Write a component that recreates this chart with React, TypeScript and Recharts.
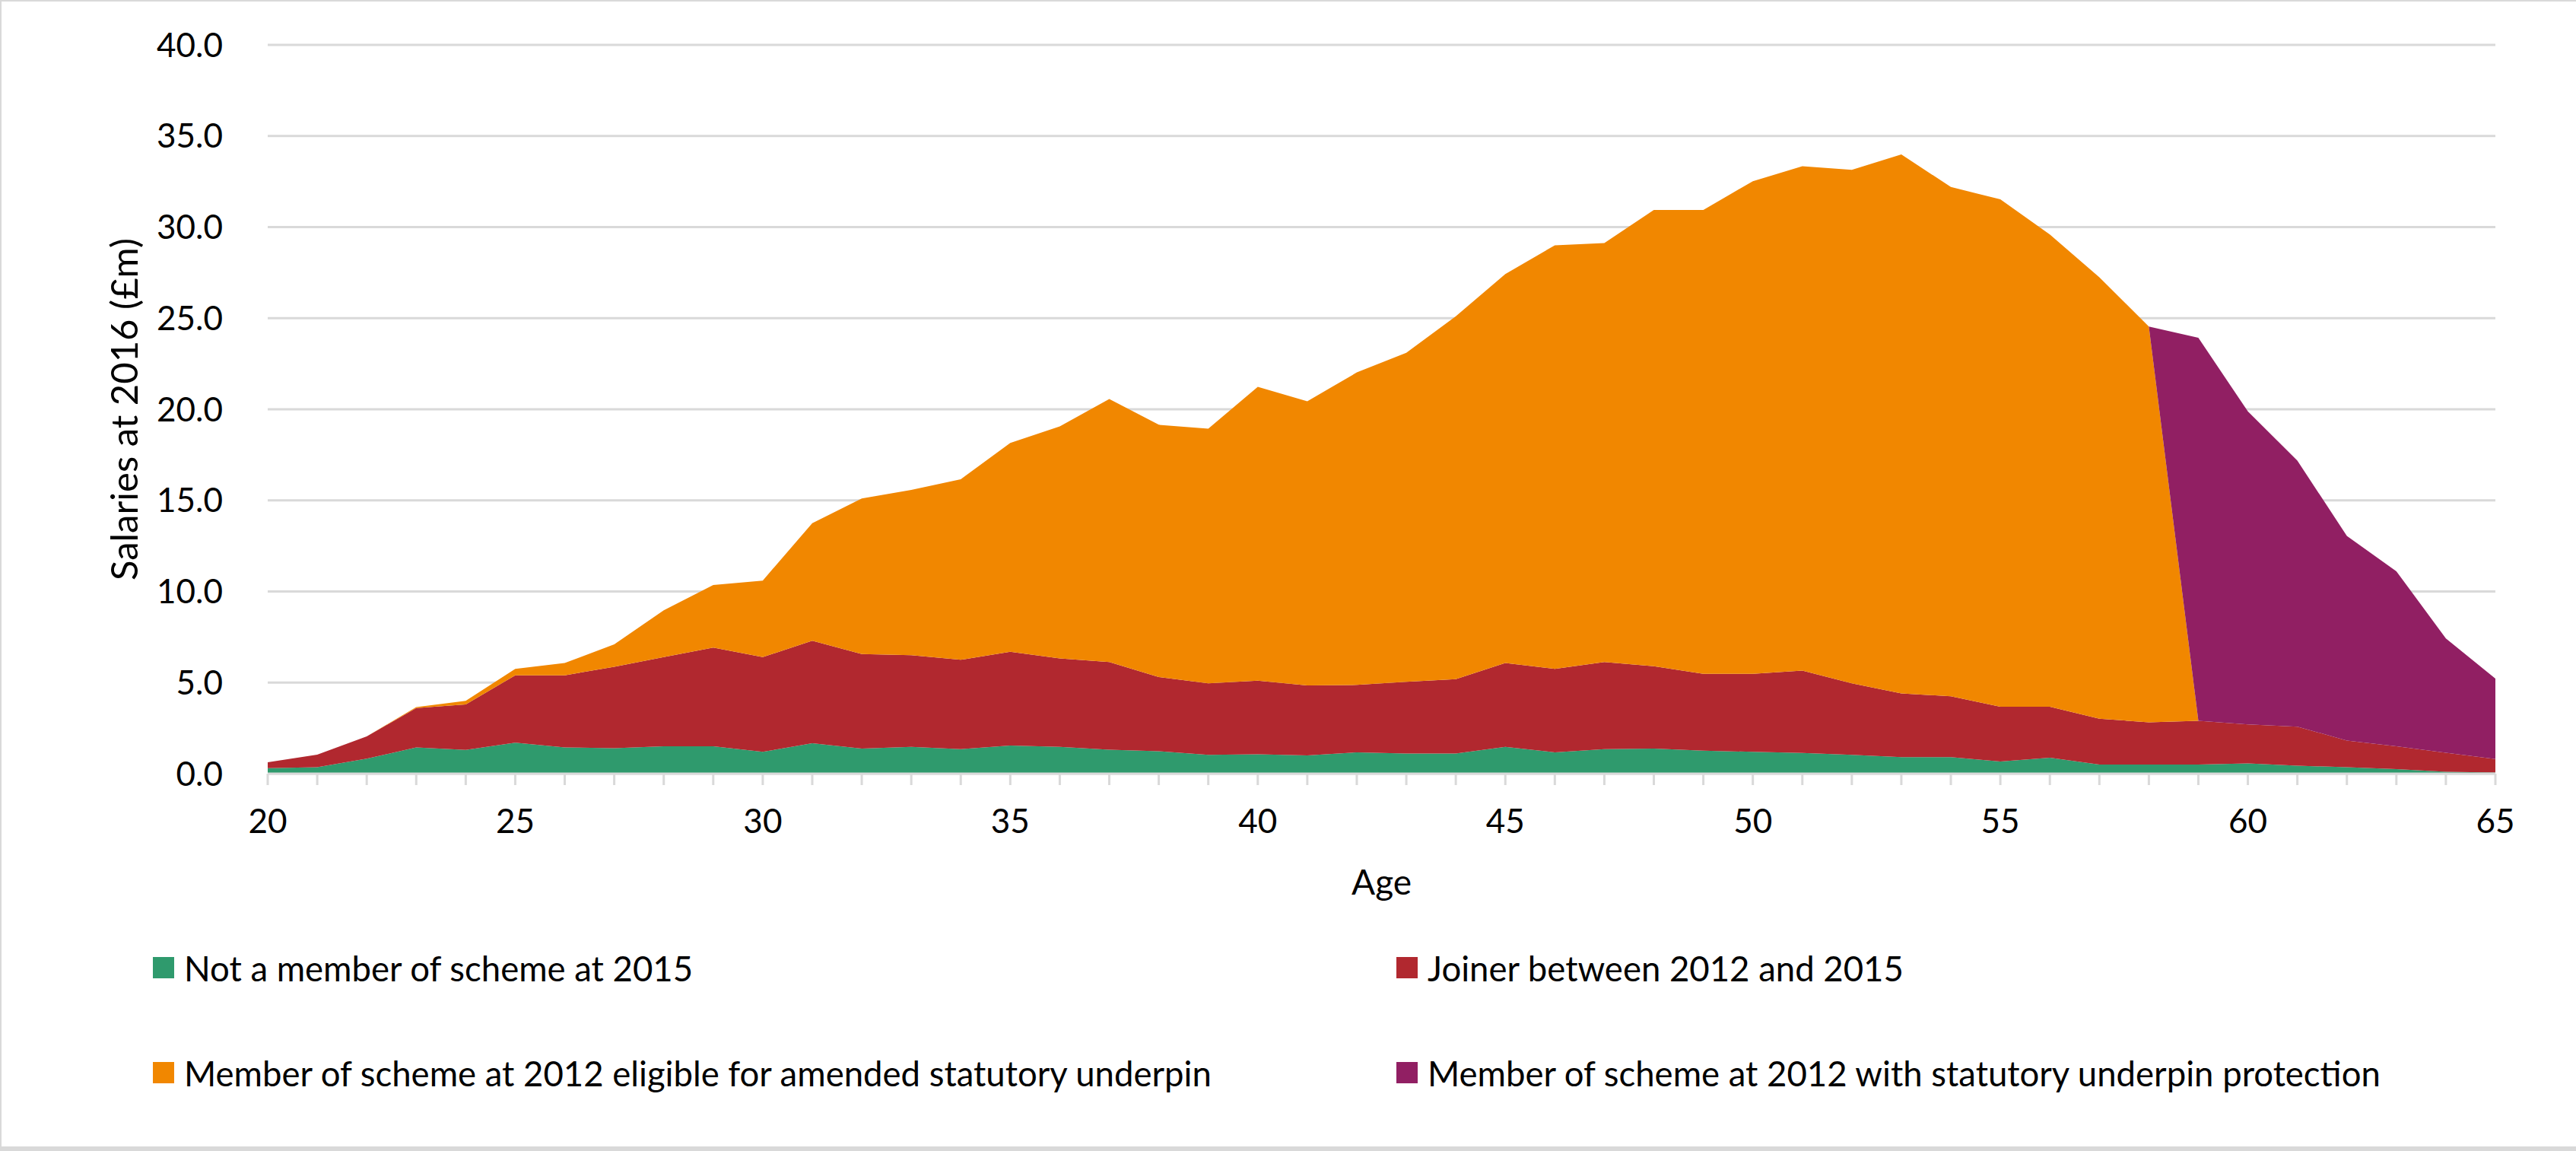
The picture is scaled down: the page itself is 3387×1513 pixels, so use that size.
import React from 'react';
import { AreaChart, Area, XAxis, YAxis, CartesianGrid, Legend } from 'recharts';

const ages = [
  20, 21, 22, 23, 24, 25, 26, 27, 28, 29, 30, 31, 32, 33, 34, 35, 36, 37, 38, 39, 40, 41, 42,
  43, 44, 45, 46, 47, 48, 49, 50, 51, 52, 53, 54, 55, 56, 57, 58, 59, 60, 61, 62, 63, 64, 65,
];

// £m
const notMember = [
  0.3, 0.36, 0.82, 1.44, 1.3, 1.7, 1.44, 1.4, 1.5, 1.5, 1.2, 1.67, 1.38, 1.47, 1.35, 1.55, 1.47,
  1.32, 1.23, 1.03, 1.06, 1.0, 1.17, 1.11, 1.11, 1.47, 1.17, 1.35, 1.38, 1.26, 1.2, 1.14, 1.03,
  0.91, 0.91, 0.67, 0.88, 0.5, 0.5, 0.5, 0.56, 0.44, 0.35, 0.25, 0.1, 0.06,
];
const joiner = [
  0.33, 0.68, 1.23, 2.16, 2.5, 3.7, 3.96, 4.47, 4.9, 5.42, 5.2, 5.63, 5.19, 5.03, 4.9, 5.14, 4.86,
  4.81, 4.07, 3.93, 4.04, 3.84, 3.7, 3.93, 4.08, 4.6, 4.58, 4.78, 4.52, 4.22, 4.28, 4.52, 3.93,
  3.49, 3.34, 3.0, 2.79, 2.52, 2.32, 2.4, 2.14, 2.14, 1.47, 1.25, 1.05, 0.74,
];
const eligible = [
  0, 0, 0, 0.05, 0.2, 0.35, 0.67, 1.23, 2.57, 3.43, 4.2, 6.45, 8.53, 9.07, 9.91, 11.46, 12.73,
  14.43, 13.85, 13.98, 16.13, 15.6, 17.15, 18.06, 19.91, 21.35, 23.25, 22.99, 25.04, 25.46, 27.04,
  27.68, 28.18, 29.59, 27.95, 27.85, 25.92, 24.22, 21.72, 0, 0, 0, 0, 0, 0, 0,
];
const protectedUnderpin = [
  0, 0, 0, 0, 0, 0, 0, 0, 0, 0, 0, 0, 0, 0, 0, 0, 0, 0, 0, 0, 0, 0, 0, 0, 0, 0, 0, 0, 0, 0, 0, 0,
  0, 0, 0, 0, 0, 0, 0, 21.03, 17.18, 14.6, 11.23, 9.61, 6.27, 4.42,
];

const yTicks = [0, 5, 10, 15, 20, 25, 30, 35, 40];

const SERIES = [
  { key: 'notMember', name: 'Not a member of scheme at 2015', color: '#2F9A6D' },
  { key: 'joiner', name: 'Joiner between 2012 and 2015', color: '#B1282F' },
  { key: 'eligible', name: 'Member of scheme at 2012 eligible for amended statutory underpin', color: '#F18700' },
  { key: 'protectedUnderpin', name: 'Member of scheme at 2012 with statutory underpin protection', color: '#911F63' },
];

const data = ages.map((age, i) => ({
  age,
  notMember: notMember[i],
  joiner: joiner[i],
  eligible: eligible[i],
  protectedUnderpin: protectedUnderpin[i],
}));

const FONT = 'Lato, "Noto Sans", sans-serif';
const GRID = '#d9d9d9';

const YTitle = (props: any) => {
  const { viewBox } = props;
  const x = viewBox.x + 162;
  const y = viewBox.y + viewBox.height / 2;
  return (
    <text x={x} y={y} transform={`rotate(-90, ${x}, ${y})`} textAnchor="middle" dominantBaseline="central"
      style={{ fontSize: 49, fill: '#000', fontFamily: FONT }}>
      Salaries at 2016 (£m)
    </text>
  );
};

const XTitle = (props: any) => {
  const { viewBox } = props;
  return (
    <text x={viewBox.x + viewBox.width / 2} y={viewBox.y + 141} textAnchor="middle" dominantBaseline="central"
      style={{ fontSize: 46, fill: '#000', fontFamily: FONT }}>
      Age
    </text>
  );
};

const LegendBox = (props: any) => {
  const cols = [201, 1836];
  const rows = [72, 210];
  // keep the series order (legend payload comes back sorted by name)
  const items = [...(props.payload || [])].sort(
    (a: any, b: any) => SERIES.findIndex(s => s.key === a.dataKey) - SERIES.findIndex(s => s.key === b.dataKey)
  );
  return (
    <div style={{ position: 'relative', width: 3387, height: 260 }}>
      {items.map((item: any, i: number) => {
        const s = SERIES.find(d => d.key === item.dataKey) || SERIES[i];
        return (
          <div key={s.key} style={{
            position: 'absolute', left: cols[i % 2], top: rows[Math.floor(i / 2)] - 30, height: 60,
            display: 'flex', alignItems: 'center', whiteSpace: 'nowrap',
          }}>
            <span style={{ display: 'inline-block', width: 28, height: 28, background: s.color, marginRight: 13 }} />
            <span style={{ fontSize: 45.5, color: '#000', fontFamily: FONT }}>{item.value}</span>
          </div>
        );
      })}
    </div>
  );
};

export default function App() {
  return (
    <div style={{ position: 'absolute', left: 0, top: 0, width: 3387, height: 1513, background: '#fff', fontFamily: FONT }}>
      <AreaChart width={3387} height={1513} data={data} margin={{ top: 59, right: 106, left: 0, bottom: 316 }}>
        <CartesianGrid vertical={false} stroke={GRID} strokeWidth={3} />
        <XAxis
          dataKey="age"
          type="number"
          domain={[20, 65]}
          ticks={ages}
          interval={0}
          tickFormatter={(v: number) => (v % 5 === 0 ? String(v) : '')}
          axisLine={{ stroke: GRID, strokeWidth: 3 }}
          tickLine={{ stroke: GRID, strokeWidth: 3 }}
          tickSize={15}
          tickMargin={32}
          height={180}
          tick={{ fontSize: 44, fill: '#000', fontFamily: FONT }}
          label={<XTitle />}
        />
        <YAxis
          domain={[0, 40]}
          ticks={yTicks}
          width={352}
          axisLine={false}
          tickLine={false}
          tickSize={6}
          tickMargin={53}
          tickFormatter={(v: number) => v.toFixed(1)}
          tick={{ fontSize: 44, fill: '#000', fontFamily: FONT }}
          label={<YTitle />}
        />
        <Legend
          layout="vertical"
          align="center"
          verticalAlign="middle"
          wrapperStyle={{ left: 0, top: 1200, width: 3387, height: 260 }}
          content={<LegendBox />}
        />
        {SERIES.map(s => (
          <Area
            key={s.key}
            type="linear"
            dataKey={s.key}
            name={s.name}
            stackId="salaries"
            fill={s.color}
            fillOpacity={1}
            stroke="none"
            isAnimationActive={false}
          />
        ))}
      </AreaChart>
      <div style={{ position: 'absolute', left: 0, top: 0, width: 2, height: 1513, background: GRID }} />
      <div style={{ position: 'absolute', left: 0, top: 0, width: 3387, height: 2, background: GRID }} />
      <div style={{ position: 'absolute', left: 0, top: 1507, width: 3387, height: 6, background: GRID }} />
    </div>
  );
}
